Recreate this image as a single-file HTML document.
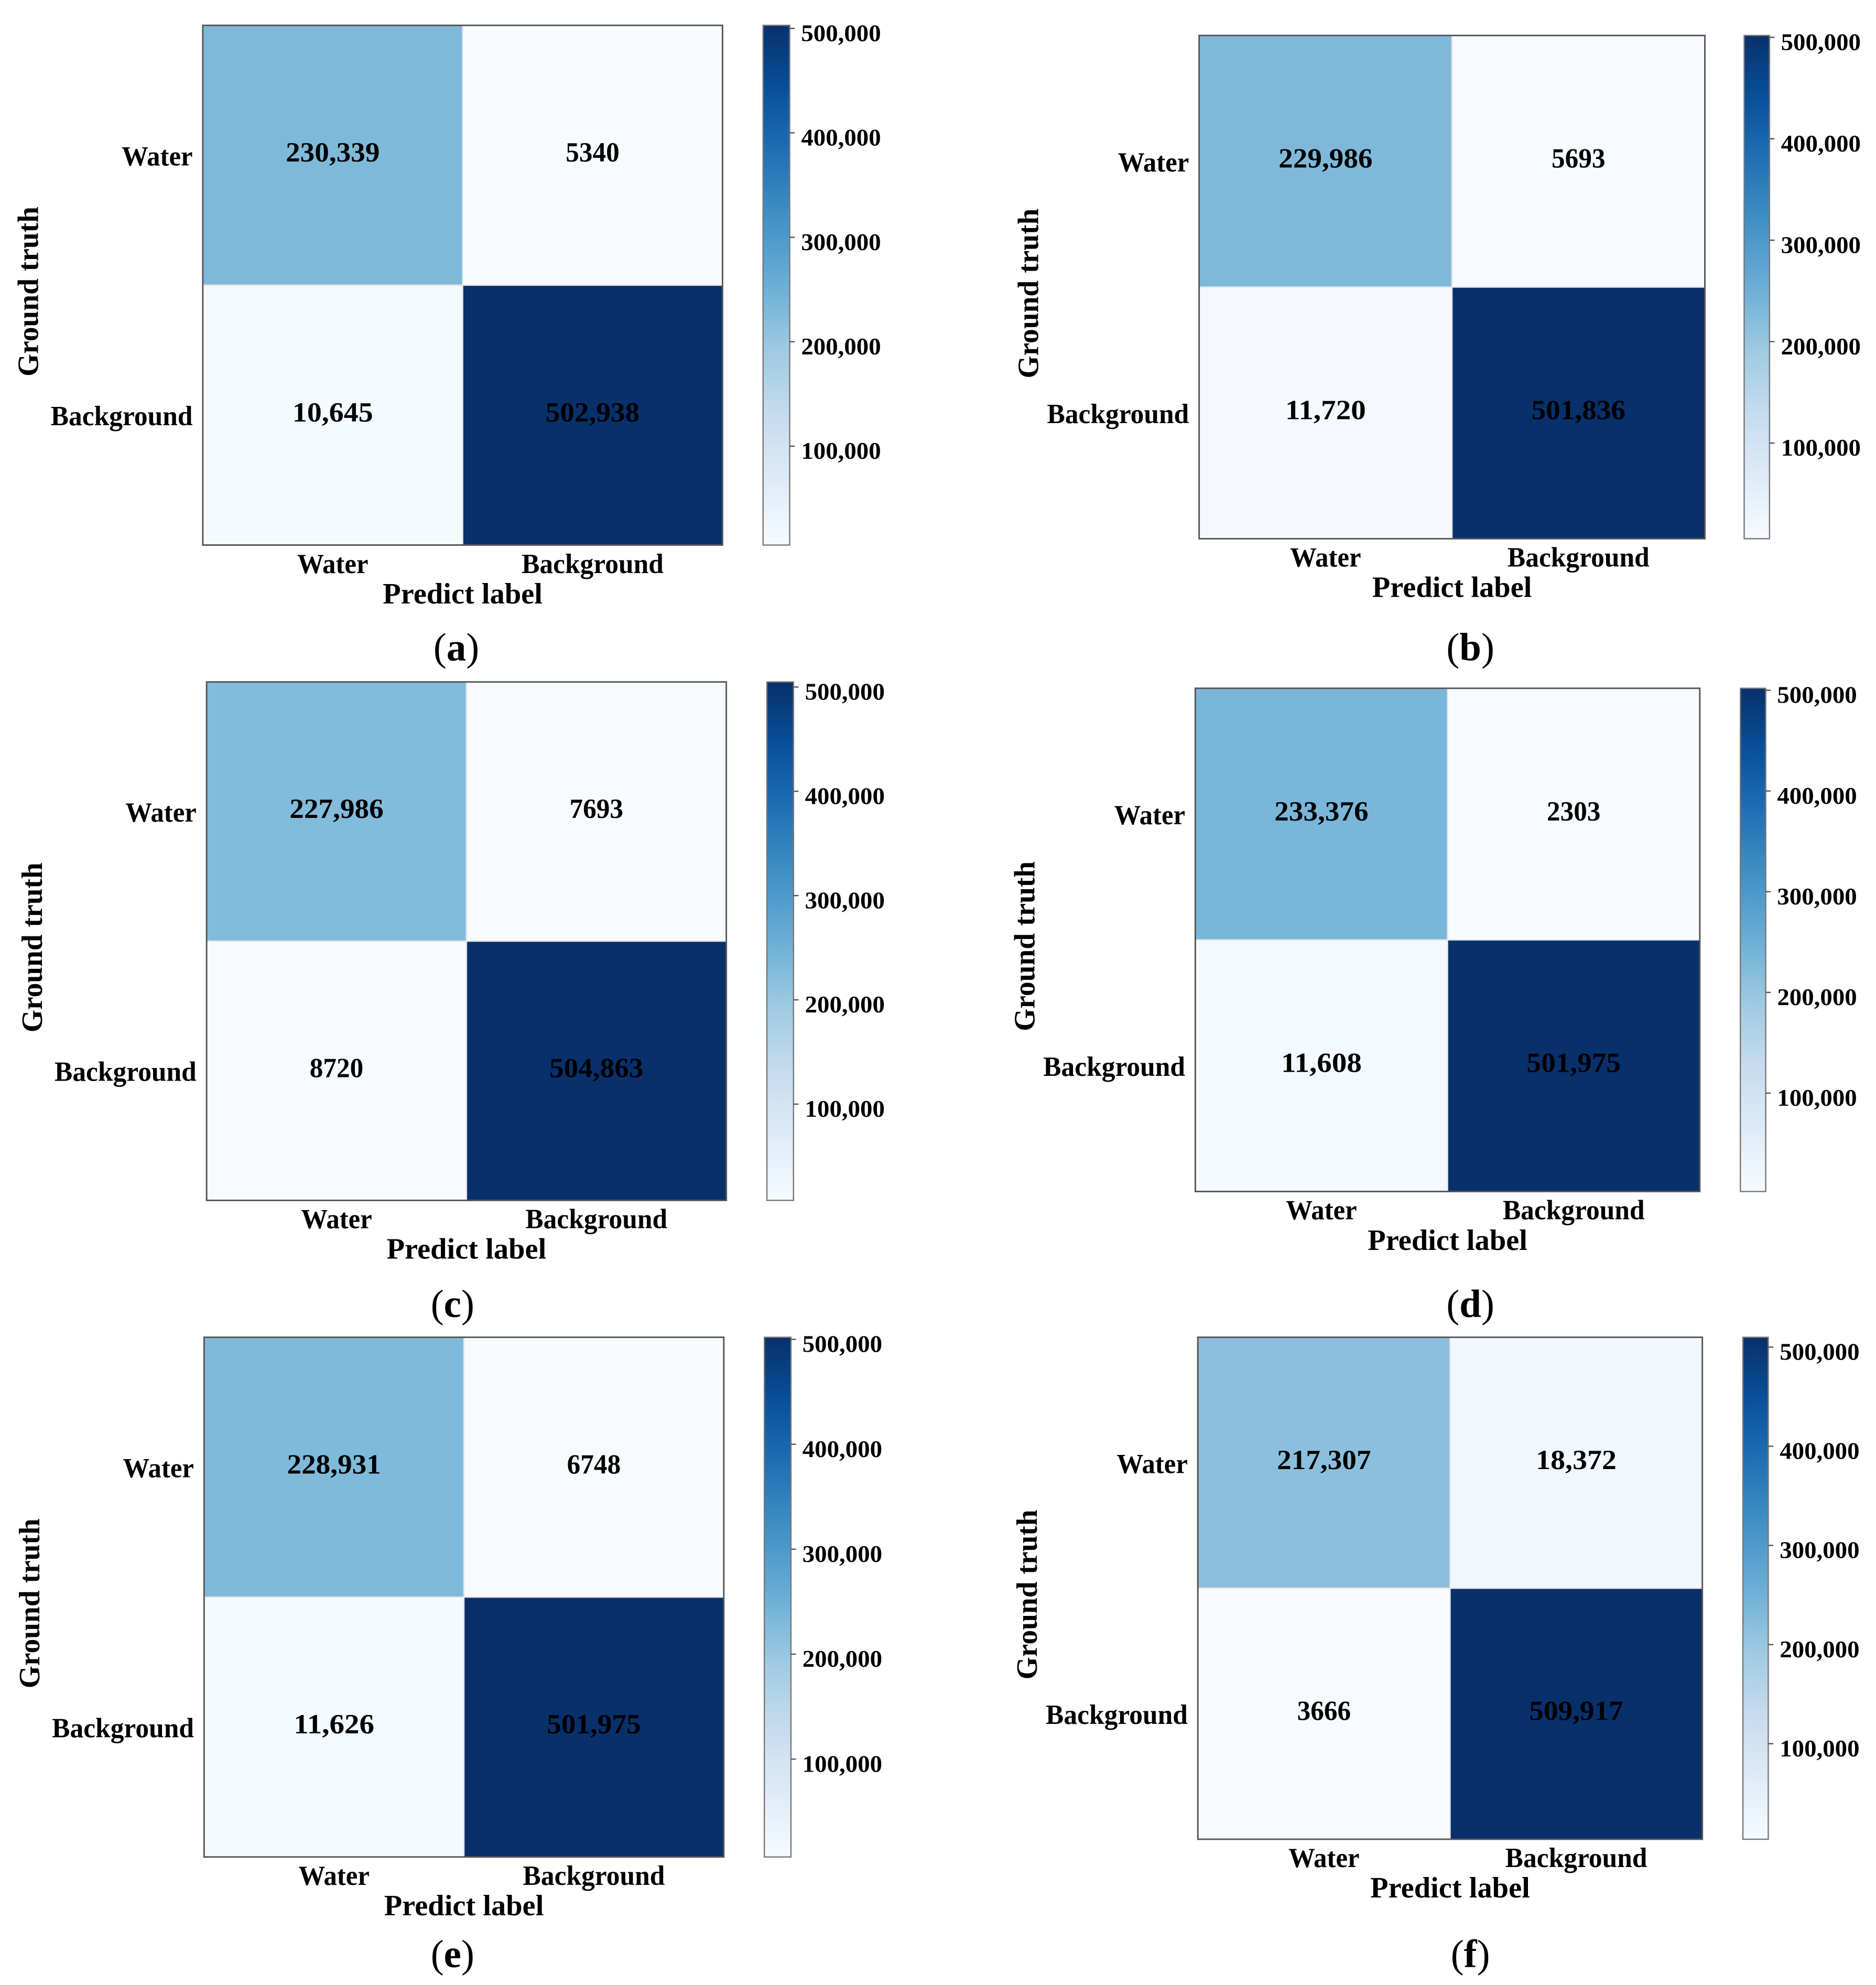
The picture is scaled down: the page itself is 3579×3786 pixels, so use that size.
<!DOCTYPE html>
<html><head><meta charset="utf-8">
<style>
html,body{margin:0;padding:0;background:#fff;}
svg{display:block;}
text{font-family:"Liberation Serif",serif;fill:#000;}
</style></head>
<body>
<svg id="fig" width="3579" height="3786" viewBox="0 0 1480 1566" preserveAspectRatio="none" xmlns="http://www.w3.org/2000/svg"></svg>
<script>
// Data: confusion matrices [TP-water, FN, FP, TN-background]
const panelLetters = ["a","b","c","d","e","f"];
const classLabels = ["Water","Background"];
const matrixA = [230339, 5340, 10645, 502938];
const matrixB = [229986, 5693, 11720, 501836];
const matrixC = [227986, 7693, 8720, 504863];
const matrixD = [233376, 2303, 11608, 501975];
const matrixE = [228931, 6748, 11626, 501975];
const matrixF = [217307, 18372, 3666, 509917];
const cbTicks = [100000, 200000, 300000, 400000, 500000];
const cbTickLabels = ["100,000","200,000","300,000","400,000","500,000"];

const matrices = [matrixA, matrixB, matrixC, matrixD, matrixE, matrixF];
// layout (thumbnail units)
const layout = [
 {x:160,y:20,w:410,h:410,cb:602,cbw:21,yt:22,lx:360,ly:510},
 {x:946,y:28,w:399,h:397,cb:1376,cbw:20,yt:811,lx:1160,ly:510},
 {x:163,y:538,w:410,h:409,cb:605,cbw:21,yt:25,lx:357,ly:1028},
 {x:943,y:543,w:398,h:397,cb:1373,cbw:20,yt:808,lx:1160,ly:1028},
 {x:161,y:1055,w:410,h:410,cb:603,cbw:21,yt:23,lx:357,ly:1541},
 {x:945,y:1055,w:398,h:396,cb:1375,cbw:20,yt:810,lx:1160,ly:1541}
];
const stops = ['#f7fbff','#deebf7','#c6dbef','#9ecae1','#6baed6','#4292c6','#2171b5','#08519c','#08306b'];
function hex(c){return [1,3,5].map(i=>parseInt(c.substr(i,2),16));}
function blues(t){
  t=Math.max(0,Math.min(1,t));
  const p=t*(stops.length-1), i=Math.min(Math.floor(p),stops.length-2), f=p-i;
  const a=hex(stops[i]), b=hex(stops[i+1]);
  return 'rgb('+a.map((v,k)=>Math.round(v+(b[k]-v)*f)).join(',')+')';
}
function fmt(v){return v>=10000? v.toLocaleString('en-US') : String(v);}
const NS='http://www.w3.org/2000/svg';
const svg=document.getElementById('fig');
function el(tag,attrs,parent){const e=document.createElementNS(NS,tag);for(const k in attrs)e.setAttribute(k,attrs[k]);(parent||svg).appendChild(e);return e;}
const defs=el('defs',{});
const grad=el('linearGradient',{id:'bluesGrad',x1:0,y1:1,x2:0,y2:0},defs);
stops.forEach((s,i)=>el('stop',{offset:(i/(stops.length-1)),'stop-color':s},grad));

matrices.forEach((m,pi)=>{
  const L=layout[pi];
  const g=el('g',{});
  
  
  const vmin=Math.min(...m), vmax=Math.max(...m);
  const cw=L.w/2, ch=L.h/2;
  const xs=c=>L.x+c*cw, ys=r=>L.y+r*ch;
  m.forEach((v,k)=>{
    const r=Math.floor(k/2), c=k%2;
    const rect=el('rect',{x:xs(c),y:ys(r),width:cw,height:ch,fill:blues((v-vmin)/(vmax-vmin)),stroke:'#e6e6e6','stroke-width':1},g);
    
    
    const s=fmt(v);
    const t=el('text',{x:xs(c)+cw/2,y:ys(r)+ch/2+5,'text-anchor':'middle','font-size':22,'font-weight':'bold',textLength:s.length*10.6,lengthAdjust:'spacingAndGlyphs'},g);
    t.textContent=s;
    
    
  });
  const border=el('rect',{x:L.x,y:L.y,width:L.w,height:L.h,fill:'none',stroke:'#555','stroke-width':1.2},g);
  
  
  classLabels.forEach((lab,i)=>{
    const ty=el('text',{x:L.x-8,y:ys(i)+ch/2+8,'text-anchor':'end','font-size':22,'font-weight':'bold',textLength:lab.length*11.2,lengthAdjust:'spacingAndGlyphs'},g);
    ty.textContent=lab;
    
    
    const tx=el('text',{x:xs(i)+cw/2,y:L.y+L.h+22,'text-anchor':'middle','font-size':22,'font-weight':'bold',textLength:lab.length*11.2,lengthAdjust:'spacingAndGlyphs'},g);
    tx.textContent=lab;
    
    
  });
  const xt=el('text',{x:L.x+L.w/2,y:L.y+L.h+46,'text-anchor':'middle','font-size':23,'font-weight':'bold',textLength:126,lengthAdjust:'spacingAndGlyphs'},g);
  xt.textContent='Predict label';
  
  
  const px=L.yt+8, py=L.y+L.h/2+5;
  const yt=el('text',{x:px,y:py,'text-anchor':'middle','font-size':23,'font-weight':'bold',textLength:134,lengthAdjust:'spacingAndGlyphs',transform:'rotate(-90 '+px+' '+py+')'},g);
  yt.textContent='Ground truth';
  
  
  const cb=el('rect',{x:L.cb,y:L.y,width:L.cbw,height:L.h,fill:'url(#bluesGrad)',stroke:'#777','stroke-width':1},g);
  
  
  const cbY=v=>L.y+L.h-(v-vmin)/(vmax-vmin)*L.h;
  cbTicks.forEach((v,i)=>{
    const y=cbY(v);
    el('line',{x1:L.cb+L.cbw,x2:L.cb+L.cbw+4,y1:y,y2:y,stroke:'#555','stroke-width':1},g);
    const tl=el('text',{x:L.cb+L.cbw+9,y:y+10,'font-size':19,'font-weight':'bold',textLength:63,lengthAdjust:'spacingAndGlyphs'},g);
    tl.textContent=cbTickLabels[i];
    
    
  });
  const cap=el('text',{x:L.lx,y:L.ly+11,'text-anchor':'middle','font-size':31},g);
  cap.innerHTML='(<tspan font-weight="bold">'+panelLetters[pi]+'</tspan>)';
  
  
});
</script>
</body></html>
